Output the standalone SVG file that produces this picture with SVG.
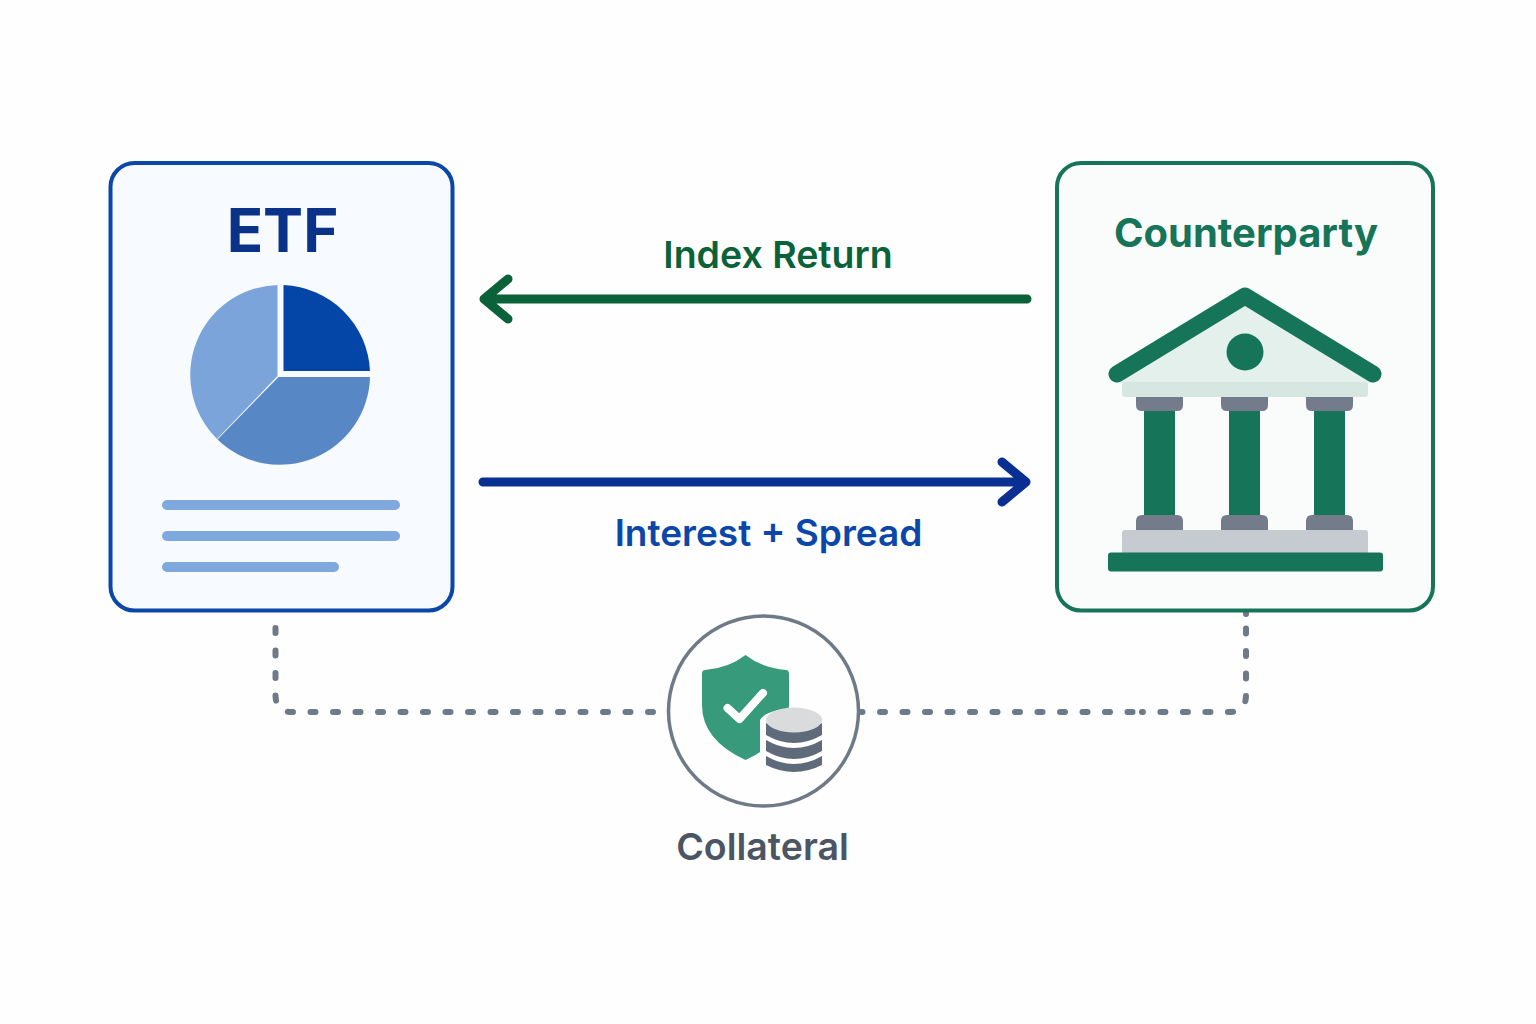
<svg xmlns="http://www.w3.org/2000/svg" width="1536" height="1024" viewBox="0 0 1536 1024">
<style>
.t{font-family:Inter,"Liberation Sans",sans-serif;font-weight:600;text-anchor:middle}
.gc{fill:#167558}.gy{fill:#747c8c}
.bar{fill:#7fa9de}
.band{fill:#5f6b7a}
.arrow{fill:none;stroke-width:9;stroke-linecap:round;stroke-linejoin:round}
.dot{fill:none;stroke:#6f7a88;stroke-width:6;stroke-linecap:round;stroke-dasharray:5 17.500}
</style>
<rect width="1536" height="1024" fill="#fefefe"/>
<g id="connectors">
<path class="arrow" stroke="#0b6238" d="M1027 299H484M508 279L484 299L508 319"/>
<path class="arrow" stroke="#0a2f92" d="M483 482H1026M1002 462L1026 482L1002 502"/>
<path class="dot" d="M275.500 628V695Q275.500 712 292 712H655"/>
<path class="dot" d="M1246 628.500V695Q1246 712 1229 712H1142"/>
<path class="dot" d="M857.500 712H1134"/>
<path class="dot" d="M1246 610V614"/>
</g>
<g id="etf">
<rect x="110.500" y="163" width="342" height="447.500" rx="24" fill="#f7faff" stroke="#0b47a8" stroke-width="4"/>
<text class="t" x="282.500" y="252" font-size="60" fill="#0a3288" style="font-weight:700">ETF</text>
<path d="M277.500 285A90 90 0 0 0 217 439L277.500 376Z" fill="#7ba5da"/>
<path d="M217.500 439.500A90 90 0 0 0 370 377H278.500Z" fill="#5887c5"/>
<path d="M283.500 285.100A90 90 0 0 1 370 371H283.500Z" fill="#0445a8"/>
<rect class="bar" x="162" y="500" width="238" height="10" rx="5"/>
<rect class="bar" x="162" y="531" width="238" height="10" rx="5"/>
<rect class="bar" x="162" y="562" width="177" height="10" rx="5"/>
</g>
<g id="counterparty">
<rect x="1057" y="163" width="376" height="447.500" rx="24" fill="#f9fcfb" stroke="#167558" stroke-width="4"/>
<text class="t" x="1246" y="246.500" font-size="40" fill="#167558" style="font-weight:700">Counterparty</text>
<path d="M1245 297L1374 378L1368 384H1122L1116 378Z" fill="#e3f0eb"/>
<rect x="1122" y="382" width="246" height="15" rx="3" fill="#d6e6e0"/>
<path d="M1117 374L1245 296L1373 374" fill="none" stroke="#167558" stroke-width="17" stroke-linecap="round" stroke-linejoin="round"/>
<circle class="gc" cx="1245" cy="352" r="18.500"/>
<rect class="gc" x="1144" y="405" width="31" height="125"/>
<rect class="gc" x="1229" y="405" width="31" height="125"/>
<rect class="gc" x="1314" y="405" width="31" height="125"/>
<path class="gy" d="M1136 397H1183V405Q1183 411 1177 411H1142Q1136 411 1136 405ZM1221 397H1268V405Q1268 411 1262 411H1227Q1221 411 1221 405ZM1306 397H1353V405Q1353 411 1347 411H1312Q1306 411 1306 405Z"/>
<path class="gy" d="M1136 530V521Q1136 515 1142 515H1177Q1183 515 1183 521V530ZM1221 530V521Q1221 515 1227 515H1262Q1268 515 1268 521V530ZM1306 530V521Q1306 515 1312 515H1347Q1353 515 1353 521V530Z"/>
<rect x="1122" y="530" width="246" height="24" rx="3" fill="#c5cbd0"/>
<rect class="gc" x="1108" y="552.500" width="275" height="19" rx="3"/>
</g>
<g id="collateral">
<circle cx="763.500" cy="711" r="95" fill="#fefefe" stroke="#6f7a88" stroke-width="3.500"/>
<path d="M745.500 655Q762 668 786 670Q789 670 789 674V705Q789 740 745.500 760Q702 740 702 705V674Q702 670 705 670Q729 668 745.500 655Z" fill="#379a7a"/>
<path d="M727.500 708L739.500 719L763 693" fill="none" stroke="#fff" stroke-width="8" stroke-linecap="round" stroke-linejoin="round"/>
<path d="M760 720A34 15 0 0 1 826 720V765Q820 776 794 776Q768 776 760 765Z" fill="#fefefe"/>
<path class="band" d="M766 723Q794 739 822 723V735Q794 751 766 735Z"/>
<path class="band" d="M766 740Q794 756 822 740V751Q794 767 766 751Z"/>
<path class="band" d="M766 756Q794 772 822 756V765Q794 779 766 765Z"/>
<ellipse cx="794" cy="720" rx="28" ry="12.500" fill="#d9dbdd"/>
<text class="t" x="762.500" y="860" font-size="37.500" fill="#4b5563">Collateral</text>
</g>
<g id="labels">
<text class="t" x="778" y="268" font-size="37.500" fill="#0b6238">Index Return</text>
<text class="t" x="768.500" y="546" font-size="37" fill="#0b47a8">Interest + Spread</text>
</g>
</svg>
